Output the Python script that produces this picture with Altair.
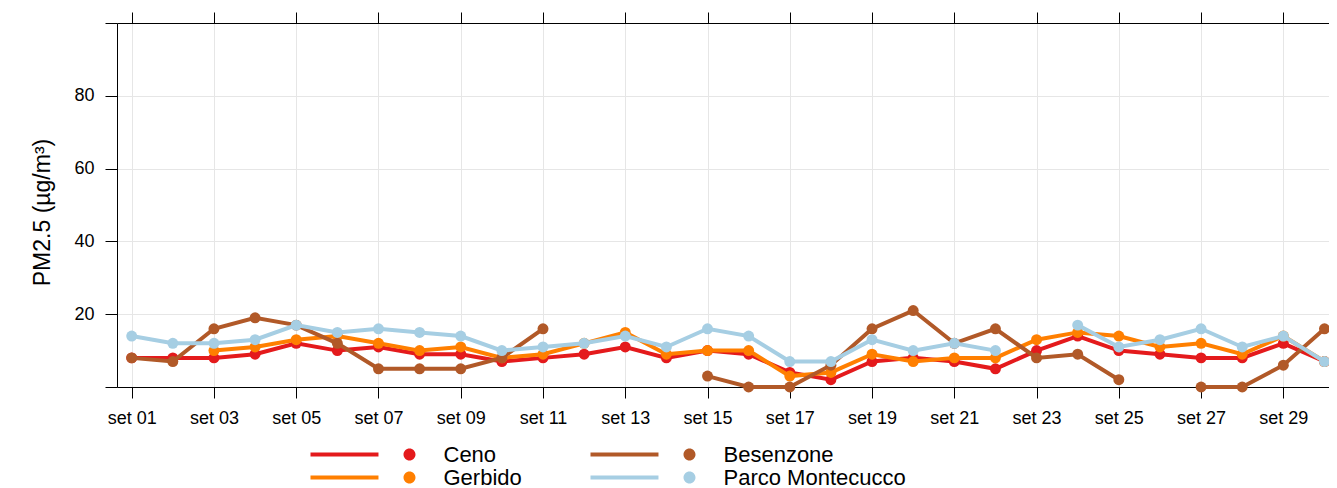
import altair as alt
import pandas as pd

days = list(range(1, 31))
stations = ["Ceno", "Gerbido", "Besenzone", "Parco Montecucco"]
ceno = [8, 8, 8, 9, 12, 10, 11, 9, 9, 7, 8, 9, 11, 8, 10, 9, 4, 2, 7, 8, 7, 5, 10, 14, 10, 9, 8, 8, 12, 7]
gerbido = [None, None, 10, 11, 13, 14, 12, 10, 11, 8, 9, 12, 15, 9, 10, 10, 3, 4, 9, 7, 8, 8, 13, 15, 14, 11, 12, 9, 14, 7]
besenzone = [8, 7, 16, 19, 17, 12, 5, 5, 5, 8, 16, None, None, None, 3, 0, 0, 6, 16, 21, 12, 16, 8, 9, 2, None, 0, 0, 6, 16]
parco = [14, 12, 12, 13, 17, 15, 16, 15, 14, 10, 11, 12, 14, 11, 16, 14, 7, 7, 13, 10, 12, 10, None, 17, 11, 13, 16, 11, 14, 7]
series = [ceno, gerbido, besenzone, parco]
colors = ["#e41a1c", "#ff7f00", "#b15928", "#a6cee3"]

rows = []
for name, vals in zip(stations, series):
    for d, v in zip(days, vals):
        rows.append({"station": name, "day": d, "value": v})
df = pd.DataFrame(rows)

FONT = "Liberation Sans"
odd_days = list(range(1, 30, 2))

xscale = alt.Scale(domain=[0.6426, 30.11], nice=False, zero=False)
yscale = alt.Scale(domain=[0, 100], nice=False, zero=False)
cscale = alt.Scale(domain=stations, range=colors)

xaxis_bottom = alt.Axis(
    orient="bottom", values=odd_days, title=None,
    labelExpr="'set ' + (datum.value < 10 ? '0' : '') + datum.value",
    tickSize=11, labelPadding=11, labelFontSize=18, labelFont=FONT,
    labelColor="black", tickColor="black", domainColor="black",
    grid=True, gridColor="#e6e6e6", labelFlush=False, labelOverlap=False,
)
xaxis_top = alt.Axis(
    orient="top", values=odd_days, title=None, labels=False,
    tickSize=11, tickColor="black", domainColor="black", grid=False,
)
yaxis = alt.Axis(
    values=[0, 20, 40, 60, 80, 100],
    labelExpr="(datum.value == 0 || datum.value == 100) ? '' : datum.value",
    tickSize=12, labelPadding=11, labelFontSize=18, labelFont=FONT,
    labelColor="black", tickColor="black", domainColor="black",
    grid=True, gridColor="#e6e6e6",
    title="PM2.5 (µg/m³)", titleFont=FONT, titleFontSize=23,
    titleFontWeight="normal", titleColor="black",
    titleAngle=270, titleAlign="center", titleBaseline="alphabetic",
    titleX=-68, titleY=189,
)

sym_path = ("M -16.5 -0.33 L -5.17 -0.33 L -5.17 0.33 L -16.5 0.33 Z "
            "M -1 0 A 1 1 0 1 1 1 0 A 1 1 0 1 1 -1 0 Z")

legend = alt.Legend(
    title=None, orient="none", legendX=281.5, legendY=420.5, columns=2,
    symbolType=sym_path, symbolSize=144, symbolStrokeWidth=0, symbolOpacity=1,
    labelFontSize=22, labelFont=FONT, labelColor="black", labelLimit=400,
    labelOffset=23, columnPadding=68, rowPadding=1, padding=0,
)

base = alt.Chart(df).encode(
    x=alt.X("day:Q", scale=xscale, axis=xaxis_bottom),
    y=alt.Y("value:Q", scale=yscale, axis=yaxis),
    color=alt.Color("station:N", scale=cscale, legend=legend),
)

layers = []
for s in stations:
    sub = base.transform_filter(alt.datum.station == s)
    layers.append(sub.mark_line(strokeWidth=4))
    layers.append(sub.mark_point(filled=True, size=120, opacity=1))

top = alt.Chart(df).mark_point(opacity=0).encode(
    x=alt.X("day:Q", scale=xscale, axis=xaxis_top)
)

chart = alt.layer(alt.layer(*layers), top).resolve_scale(x="independent").properties(
    width=1212, height=364,
    padding={"left": 109, "top": 15, "right": 0, "bottom": 101},
    autosize=alt.AutoSizeParams(type="none"),
).configure_view(stroke=None)

chart.save("out.html", embed_options={"renderer": "svg", "actions": False})
